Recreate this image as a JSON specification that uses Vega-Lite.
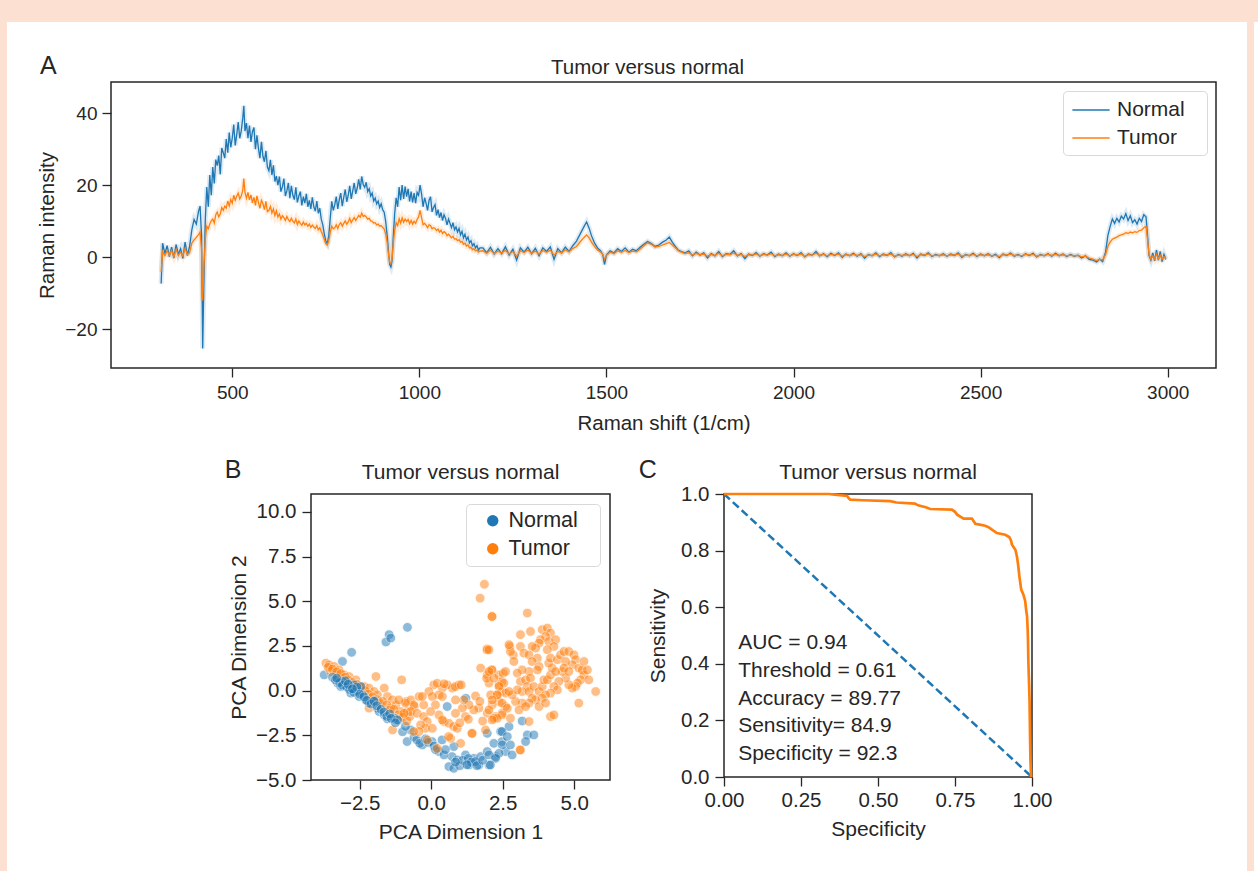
{
"$schema": "https://vega.github.io/schema/vega-lite/v6.json",
"background": "white",
"padding": 0,
"spacing": 0,
"resolve": {"scale": {"color": "independent"}, "legend": {"color": "independent"}},
"config": {
  "font": "Liberation Sans",
  "view": {"stroke": "#262626", "strokeWidth": 1.5},
  "axis": {"grid": false, "domain": false, "tickColor": "#262626", "tickWidth": 1.3, "tickSize": 9, "labelColor": "#262626", "titleColor": "#262626", "titleFontWeight": "normal", "labelFlush": false, "labelOverlap": false, "labelPadding": 4},
  "title": {"fontWeight": "normal", "color": "#262626", "fontSize": 20},
  "legend": {"labelColor": "#262626"}
},
"datasets": {
"spec": [
{"x":310,"Normal":-7.3,"Tumor":-4.0},{"x":314,"Normal":3.9,"Tumor":1.6},{"x":320,"Normal":1.0,"Tumor":0.4},{"x":326,"Normal":3.2,"Tumor":1.8},{"x":332,"Normal":0.2,"Tumor":0.6},{"x":338,"Normal":2.8,"Tumor":1.9},{"x":344,"Normal":-0.2,"Tumor":0.1},{"x":350,"Normal":3.5,"Tumor":2.2},{"x":356,"Normal":0.8,"Tumor":0.5},{"x":362,"Normal":2.4,"Tumor":1.4},{"x":368,"Normal":-0.3,"Tumor":0.3},{"x":374,"Normal":4.2,"Tumor":2.5},{"x":380,"Normal":0.5,"Tumor":0.8},{"x":386,"Normal":3.0,"Tumor":1.2},{"x":392,"Normal":7.6,"Tumor":3.9},{"x":398,"Normal":10.5,"Tumor":4.8},{"x":404,"Normal":9.2,"Tumor":5.5},{"x":410,"Normal":12.8,"Tumor":6.3},{"x":414,"Normal":14.2,"Tumor":7.0},{"x":418,"Normal":6.0,"Tumor":2.0},{"x":421,"Normal":-25.3,"Tumor":-12.0},{"x":424,"Normal":-8.0,"Tumor":-3.0},{"x":428,"Normal":10.5,"Tumor":5.2},{"x":432,"Normal":19.5,"Tumor":8.6},{"x":436,"Normal":14.0,"Tumor":7.9},{"x":440,"Normal":22.8,"Tumor":9.2},{"x":444,"Normal":17.2,"Tumor":10.1},{"x":448,"Normal":25.0,"Tumor":10.6},{"x":452,"Normal":20.5,"Tumor":9.5},{"x":456,"Normal":27.1,"Tumor":11.8},{"x":460,"Normal":25.4,"Tumor":12.5},{"x":464,"Normal":28.2,"Tumor":11.2},{"x":468,"Normal":23.0,"Tumor":12.0},{"x":472,"Normal":30.3,"Tumor":13.8},{"x":476,"Normal":29.0,"Tumor":13.0},{"x":480,"Normal":27.5,"Tumor":14.2},{"x":484,"Normal":32.8,"Tumor":13.6},{"x":488,"Normal":29.0,"Tumor":15.6},{"x":492,"Normal":34.6,"Tumor":14.2},{"x":496,"Normal":30.5,"Tumor":16.0},{"x":500,"Normal":33.0,"Tumor":15.0},{"x":504,"Normal":36.8,"Tumor":17.2},{"x":508,"Normal":31.0,"Tumor":15.8},{"x":512,"Normal":34.0,"Tumor":16.9},{"x":516,"Normal":37.5,"Tumor":17.8},{"x":520,"Normal":33.0,"Tumor":16.2},{"x":524,"Normal":35.0,"Tumor":17.0},{"x":528,"Normal":38.5,"Tumor":18.5},{"x":531,"Normal":42.0,"Tumor":21.8},{"x":534,"Normal":35.0,"Tumor":18.0},{"x":538,"Normal":37.2,"Tumor":16.4},{"x":542,"Normal":33.0,"Tumor":18.0},{"x":546,"Normal":36.5,"Tumor":15.9},{"x":550,"Normal":32.0,"Tumor":17.3},{"x":554,"Normal":34.8,"Tumor":15.1},{"x":558,"Normal":36.0,"Tumor":16.6},{"x":562,"Normal":30.0,"Tumor":14.4},{"x":566,"Normal":33.8,"Tumor":17.0},{"x":570,"Normal":30.2,"Tumor":15.2},{"x":574,"Normal":27.5,"Tumor":13.6},{"x":578,"Normal":32.0,"Tumor":15.8},{"x":582,"Normal":28.0,"Tumor":14.9},{"x":586,"Normal":26.5,"Tumor":13.2},{"x":590,"Normal":29.5,"Tumor":15.5},{"x":594,"Normal":25.0,"Tumor":12.7},{"x":598,"Normal":24.0,"Tumor":13.0},{"x":602,"Normal":27.0,"Tumor":14.1},{"x":606,"Normal":22.8,"Tumor":12.3},{"x":610,"Normal":25.5,"Tumor":13.4},{"x":614,"Normal":21.0,"Tumor":11.6},{"x":618,"Normal":22.5,"Tumor":12.9},{"x":622,"Normal":20.0,"Tumor":11.2},{"x":626,"Normal":22.4,"Tumor":12.0},{"x":630,"Normal":18.2,"Tumor":10.6},{"x":634,"Normal":19.5,"Tumor":11.5},{"x":638,"Normal":21.8,"Tumor":11.0},{"x":642,"Normal":17.0,"Tumor":10.2},{"x":646,"Normal":18.4,"Tumor":11.3},{"x":650,"Normal":20.6,"Tumor":10.4},{"x":654,"Normal":16.4,"Tumor":9.9},{"x":658,"Normal":19.8,"Tumor":10.8},{"x":662,"Normal":17.2,"Tumor":10.0},{"x":666,"Normal":16.0,"Tumor":9.5},{"x":670,"Normal":19.4,"Tumor":10.6},{"x":674,"Normal":15.2,"Tumor":9.1},{"x":678,"Normal":17.0,"Tumor":10.1},{"x":682,"Normal":18.2,"Tumor":9.4},{"x":686,"Normal":14.4,"Tumor":8.9},{"x":690,"Normal":16.8,"Tumor":9.8},{"x":694,"Normal":15.0,"Tumor":9.0},{"x":698,"Normal":17.6,"Tumor":9.4},{"x":702,"Normal":14.0,"Tumor":8.6},{"x":706,"Normal":15.8,"Tumor":9.2},{"x":710,"Normal":13.4,"Tumor":8.3},{"x":714,"Normal":16.6,"Tumor":8.9},{"x":718,"Normal":14.0,"Tumor":8.4},{"x":722,"Normal":12.8,"Tumor":8.0},{"x":726,"Normal":15.6,"Tumor":8.8},{"x":730,"Normal":12.2,"Tumor":7.6},{"x":734,"Normal":13.6,"Tumor":8.2},{"x":738,"Normal":10.5,"Tumor":7.1},{"x":742,"Normal":9.0,"Tumor":6.2},{"x":746,"Normal":6.5,"Tumor":5.0},{"x":750,"Normal":4.5,"Tumor":3.8},{"x":754,"Normal":3.8,"Tumor":3.4},{"x":758,"Normal":6.0,"Tumor":4.6},{"x":762,"Normal":11.0,"Tumor":7.0},{"x":766,"Normal":15.5,"Tumor":8.6},{"x":770,"Normal":13.0,"Tumor":7.9},{"x":774,"Normal":14.6,"Tumor":8.2},{"x":778,"Normal":16.8,"Tumor":9.0},{"x":782,"Normal":13.4,"Tumor":8.0},{"x":786,"Normal":16.0,"Tumor":9.1},{"x":790,"Normal":17.8,"Tumor":9.6},{"x":794,"Normal":14.2,"Tumor":8.6},{"x":798,"Normal":16.6,"Tumor":9.4},{"x":802,"Normal":18.8,"Tumor":10.1},{"x":806,"Normal":15.4,"Tumor":9.2},{"x":810,"Normal":17.2,"Tumor":9.8},{"x":814,"Normal":19.8,"Tumor":10.8},{"x":818,"Normal":16.2,"Tumor":9.6},{"x":822,"Normal":18.4,"Tumor":10.4},{"x":826,"Normal":20.6,"Tumor":11.0},{"x":830,"Normal":17.6,"Tumor":10.2},{"x":834,"Normal":19.2,"Tumor":10.9},{"x":838,"Normal":21.6,"Tumor":11.6},{"x":842,"Normal":18.8,"Tumor":11.1},{"x":846,"Normal":22.4,"Tumor":12.2},{"x":850,"Normal":20.2,"Tumor":11.3},{"x":854,"Normal":19.4,"Tumor":11.6},{"x":858,"Normal":20.8,"Tumor":11.2},{"x":862,"Normal":18.2,"Tumor":10.6},{"x":866,"Normal":19.0,"Tumor":10.8},{"x":870,"Normal":17.0,"Tumor":10.1},{"x":874,"Normal":17.8,"Tumor":10.0},{"x":878,"Normal":15.6,"Tumor":9.5},{"x":882,"Normal":16.4,"Tumor":9.6},{"x":886,"Normal":14.8,"Tumor":9.0},{"x":890,"Normal":15.6,"Tumor":9.2},{"x":894,"Normal":13.8,"Tumor":8.6},{"x":898,"Normal":14.8,"Tumor":8.8},{"x":902,"Normal":13.2,"Tumor":8.3},{"x":906,"Normal":12.5,"Tumor":7.8},{"x":910,"Normal":10.0,"Tumor":6.5},{"x":914,"Normal":6.0,"Tumor":4.2},{"x":918,"Normal":1.0,"Tumor":0.5},{"x":921,"Normal":-2.0,"Tumor":-1.5},{"x":924,"Normal":-2.7,"Tumor":-1.8},{"x":927,"Normal":-1.0,"Tumor":-0.5},{"x":930,"Normal":5.0,"Tumor":3.5},{"x":934,"Normal":12.0,"Tumor":7.5},{"x":938,"Normal":16.5,"Tumor":9.6},{"x":942,"Normal":14.0,"Tumor":8.8},{"x":946,"Normal":19.5,"Tumor":10.7},{"x":950,"Normal":15.8,"Tumor":9.5},{"x":954,"Normal":20.0,"Tumor":10.9},{"x":958,"Normal":16.2,"Tumor":9.7},{"x":962,"Normal":19.6,"Tumor":10.6},{"x":966,"Normal":16.8,"Tumor":9.9},{"x":970,"Normal":19.0,"Tumor":10.5},{"x":974,"Normal":15.5,"Tumor":9.3},{"x":978,"Normal":18.2,"Tumor":10.2},{"x":982,"Normal":15.2,"Tumor":9.2},{"x":986,"Normal":17.8,"Tumor":10.0},{"x":990,"Normal":15.0,"Tumor":9.4},{"x":994,"Normal":18.0,"Tumor":10.5},{"x":998,"Normal":17.2,"Tumor":11.2},{"x":1002,"Normal":20.0,"Tumor":13.0},{"x":1006,"Normal":17.5,"Tumor":11.0},{"x":1010,"Normal":14.0,"Tumor":9.0},{"x":1014,"Normal":16.5,"Tumor":9.4},{"x":1018,"Normal":15.0,"Tumor":8.9},{"x":1022,"Normal":13.0,"Tumor":8.2},{"x":1026,"Normal":15.8,"Tumor":9.0},{"x":1030,"Normal":16.8,"Tumor":8.8},{"x":1034,"Normal":12.6,"Tumor":7.9},{"x":1038,"Normal":13.8,"Tumor":8.2},{"x":1042,"Normal":14.6,"Tumor":8.0},{"x":1046,"Normal":11.6,"Tumor":7.4},{"x":1050,"Normal":13.2,"Tumor":7.8},{"x":1054,"Normal":11.0,"Tumor":7.0},{"x":1058,"Normal":12.4,"Tumor":7.5},{"x":1062,"Normal":10.2,"Tumor":6.6},{"x":1066,"Normal":11.8,"Tumor":7.1},{"x":1070,"Normal":10.8,"Tumor":6.8},{"x":1074,"Normal":9.0,"Tumor":6.0},{"x":1078,"Normal":10.6,"Tumor":6.4},{"x":1082,"Normal":9.4,"Tumor":5.9},{"x":1086,"Normal":8.2,"Tumor":5.4},{"x":1090,"Normal":9.6,"Tumor":5.8},{"x":1094,"Normal":7.6,"Tumor":5.0},{"x":1098,"Normal":8.4,"Tumor":5.2},{"x":1102,"Normal":7.0,"Tumor":4.6},{"x":1106,"Normal":8.0,"Tumor":4.9},{"x":1110,"Normal":6.2,"Tumor":4.2},{"x":1114,"Normal":7.2,"Tumor":4.4},{"x":1118,"Normal":5.4,"Tumor":3.6},{"x":1122,"Normal":6.4,"Tumor":3.9},{"x":1126,"Normal":4.8,"Tumor":3.1},{"x":1130,"Normal":5.6,"Tumor":3.4},{"x":1134,"Normal":4.0,"Tumor":2.6},{"x":1138,"Normal":4.6,"Tumor":2.8},{"x":1142,"Normal":3.2,"Tumor":2.1},{"x":1146,"Normal":3.8,"Tumor":2.4},{"x":1150,"Normal":2.6,"Tumor":1.8},{"x":1154,"Normal":3.2,"Tumor":2.0},{"x":1158,"Normal":2.0,"Tumor":1.5},{"x":1162,"Normal":2.6,"Tumor":1.7},
{"x":1170,"Normal":2.6,"Tumor":1.8},{"x":1180,"Normal":1.2,"Tumor":1.1},{"x":1190,"Normal":2.8,"Tumor":2.0},{"x":1200,"Normal":0.9,"Tumor":1.0},{"x":1210,"Normal":2.4,"Tumor":1.7},{"x":1220,"Normal":1.0,"Tumor":1.2},{"x":1230,"Normal":2.9,"Tumor":1.9},{"x":1240,"Normal":0.6,"Tumor":0.9},{"x":1250,"Normal":2.2,"Tumor":1.6},{"x":1260,"Normal":-0.8,"Tumor":0.3},{"x":1270,"Normal":2.6,"Tumor":1.8},{"x":1280,"Normal":1.4,"Tumor":1.3},{"x":1290,"Normal":2.8,"Tumor":2.0},{"x":1300,"Normal":1.0,"Tumor":1.1},{"x":1310,"Normal":2.5,"Tumor":1.7},{"x":1320,"Normal":0.4,"Tumor":0.9},{"x":1330,"Normal":2.6,"Tumor":1.9},{"x":1340,"Normal":1.6,"Tumor":1.4},{"x":1350,"Normal":2.9,"Tumor":2.0},{"x":1360,"Normal":-0.6,"Tumor":0.6},{"x":1370,"Normal":2.4,"Tumor":1.6},{"x":1380,"Normal":1.2,"Tumor":1.2},{"x":1390,"Normal":2.8,"Tumor":2.1},{"x":1400,"Normal":1.6,"Tumor":1.5},{"x":1410,"Normal":3.2,"Tumor":2.4},{"x":1420,"Normal":4.5,"Tumor":3.0},{"x":1430,"Normal":6.5,"Tumor":4.3},{"x":1440,"Normal":8.5,"Tumor":5.5},{"x":1447,"Normal":9.8,"Tumor":6.2},{"x":1454,"Normal":8.0,"Tumor":5.3},{"x":1460,"Normal":6.0,"Tumor":4.2},{"x":1468,"Normal":4.0,"Tumor":3.0},{"x":1476,"Normal":2.6,"Tumor":2.0},{"x":1484,"Normal":1.8,"Tumor":1.5},{"x":1490,"Normal":0.8,"Tumor":0.8},{"x":1495,"Normal":-2.0,"Tumor":-0.6},{"x":1500,"Normal":0.6,"Tumor":0.5},{"x":1510,"Normal":1.8,"Tumor":1.4},{"x":1520,"Normal":1.2,"Tumor":1.0},{"x":1530,"Normal":2.4,"Tumor":1.8},{"x":1540,"Normal":1.6,"Tumor":1.4},{"x":1550,"Normal":2.6,"Tumor":1.9},{"x":1560,"Normal":1.4,"Tumor":1.3},{"x":1570,"Normal":2.2,"Tumor":1.7},{"x":1580,"Normal":1.8,"Tumor":1.5},{"x":1590,"Normal":2.8,"Tumor":2.2},{"x":1600,"Normal":3.6,"Tumor":3.2},{"x":1610,"Normal":4.4,"Tumor":4.0},{"x":1620,"Normal":3.8,"Tumor":3.6},{"x":1630,"Normal":3.0,"Tumor":2.8},{"x":1640,"Normal":3.4,"Tumor":3.0},{"x":1650,"Normal":4.2,"Tumor":3.4},{"x":1660,"Normal":4.8,"Tumor":3.8},{"x":1668,"Normal":5.6,"Tumor":4.1},{"x":1676,"Normal":4.2,"Tumor":3.4},{"x":1684,"Normal":3.0,"Tumor":2.6},{"x":1692,"Normal":2.0,"Tumor":1.8},{"x":1700,"Normal":1.6,"Tumor":1.4},{"x":1710,"Normal":1.2,"Tumor":1.0},{"x":1720,"Normal":1.8,"Tumor":1.3},{"x":1730,"Normal":0.4,"Tumor":0.6},{"x":1740,"Normal":1.4,"Tumor":1.1},{"x":1750,"Normal":0.6,"Tumor":0.7},{"x":1760,"Normal":1.2,"Tumor":0.9},{"x":1770,"Normal":-0.2,"Tumor":0.3},{"x":1780,"Normal":1.0,"Tumor":0.8},{"x":1790,"Normal":0.4,"Tumor":0.5},{"x":1800,"Normal":1.6,"Tumor":1.1},{"x":1810,"Normal":0.2,"Tumor":0.4},{"x":1820,"Normal":1.0,"Tumor":0.8},{"x":1830,"Normal":0.8,"Tumor":0.7},{"x":1840,"Normal":1.8,"Tumor":1.2},{"x":1850,"Normal":0.4,"Tumor":0.5},{"x":1860,"Normal":1.0,"Tumor":0.8},{"x":1870,"Normal":-0.4,"Tumor":0.2},{"x":1880,"Normal":0.9,"Tumor":0.7},{"x":1890,"Normal":0.5,"Tumor":0.6},{"x":1900,"Normal":1.3,"Tumor":0.9},{"x":1910,"Normal":0.3,"Tumor":0.4},{"x":1920,"Normal":1.0,"Tumor":0.8},{"x":1930,"Normal":0.6,"Tumor":0.6},{"x":1940,"Normal":1.4,"Tumor":1.0},{"x":1950,"Normal":0.2,"Tumor":0.4},{"x":1960,"Normal":0.9,"Tumor":0.7},{"x":1970,"Normal":0.4,"Tumor":0.5},{"x":1980,"Normal":1.2,"Tumor":0.9},{"x":1990,"Normal":0.3,"Tumor":0.4},{"x":2000,"Normal":1.0,"Tumor":0.8},{"x":2010,"Normal":0.5,"Tumor":0.6},{"x":2020,"Normal":1.3,"Tumor":0.9},{"x":2030,"Normal":0.1,"Tumor":0.3},{"x":2040,"Normal":0.9,"Tumor":0.7},{"x":2050,"Normal":0.6,"Tumor":0.6},{"x":2060,"Normal":1.6,"Tumor":1.1},{"x":2070,"Normal":0.4,"Tumor":0.5},{"x":2080,"Normal":1.0,"Tumor":0.8},{"x":2090,"Normal":0.2,"Tumor":0.4},{"x":2100,"Normal":1.1,"Tumor":0.8},{"x":2110,"Normal":0.5,"Tumor":0.6},{"x":2120,"Normal":1.2,"Tumor":0.9},{"x":2130,"Normal":0.0,"Tumor":0.3},{"x":2140,"Normal":0.9,"Tumor":0.7},{"x":2150,"Normal":0.4,"Tumor":0.5},{"x":2160,"Normal":1.1,"Tumor":0.8},{"x":2170,"Normal":0.3,"Tumor":0.5},{"x":2180,"Normal":1.0,"Tumor":0.7},{"x":2190,"Normal":-0.3,"Tumor":0.2},{"x":2200,"Normal":0.8,"Tumor":0.6},{"x":2210,"Normal":0.4,"Tumor":0.5},{"x":2220,"Normal":1.2,"Tumor":0.9},{"x":2230,"Normal":0.2,"Tumor":0.4},{"x":2240,"Normal":0.9,"Tumor":0.7},{"x":2250,"Normal":0.5,"Tumor":0.6},{"x":2260,"Normal":1.3,"Tumor":0.9},{"x":2270,"Normal":0.1,"Tumor":0.3},{"x":2280,"Normal":0.8,"Tumor":0.6},{"x":2290,"Normal":0.3,"Tumor":0.5},{"x":2300,"Normal":1.0,"Tumor":0.7},{"x":2310,"Normal":0.4,"Tumor":0.5},{"x":2320,"Normal":1.1,"Tumor":0.8},{"x":2330,"Normal":-0.2,"Tumor":0.2},{"x":2340,"Normal":0.9,"Tumor":0.7},{"x":2350,"Normal":0.5,"Tumor":0.6},{"x":2360,"Normal":1.2,"Tumor":0.9},{"x":2370,"Normal":0.2,"Tumor":0.4},{"x":2380,"Normal":0.8,"Tumor":0.6},{"x":2390,"Normal":0.4,"Tumor":0.5},{"x":2400,"Normal":1.0,"Tumor":0.7},{"x":2410,"Normal":0.3,"Tumor":0.4},{"x":2420,"Normal":0.9,"Tumor":0.7},{"x":2430,"Normal":0.5,"Tumor":0.6},{"x":2440,"Normal":1.2,"Tumor":0.9},{"x":2450,"Normal":0.0,"Tumor":0.3},{"x":2460,"Normal":0.8,"Tumor":0.6},{"x":2470,"Normal":0.4,"Tumor":0.5},{"x":2480,"Normal":1.1,"Tumor":0.8},{"x":2490,"Normal":0.2,"Tumor":0.4},{"x":2500,"Normal":0.9,"Tumor":0.7},{"x":2510,"Normal":0.4,"Tumor":0.5},{"x":2520,"Normal":1.0,"Tumor":0.7},{"x":2530,"Normal":0.3,"Tumor":0.4},{"x":2540,"Normal":0.8,"Tumor":0.6},{"x":2550,"Normal":-0.1,"Tumor":0.2},{"x":2560,"Normal":0.9,"Tumor":0.7},{"x":2570,"Normal":0.5,"Tumor":0.6},{"x":2580,"Normal":1.2,"Tumor":0.9},{"x":2590,"Normal":0.3,"Tumor":0.5},{"x":2600,"Normal":0.8,"Tumor":0.6},{"x":2610,"Normal":0.2,"Tumor":0.4},{"x":2620,"Normal":1.0,"Tumor":0.8},{"x":2630,"Normal":0.5,"Tumor":0.6},{"x":2640,"Normal":1.1,"Tumor":0.8},{"x":2650,"Normal":0.1,"Tumor":0.3},{"x":2660,"Normal":0.8,"Tumor":0.6},{"x":2670,"Normal":0.4,"Tumor":0.5},{"x":2680,"Normal":1.0,"Tumor":0.8},{"x":2690,"Normal":0.3,"Tumor":0.5},{"x":2700,"Normal":1.1,"Tumor":0.8},{"x":2710,"Normal":0.4,"Tumor":0.5},{"x":2720,"Normal":0.9,"Tumor":0.7},{"x":2730,"Normal":0.2,"Tumor":0.4},{"x":2740,"Normal":0.8,"Tumor":0.6},{"x":2750,"Normal":0.3,"Tumor":0.4},{"x":2760,"Normal":0.6,"Tumor":0.5},{"x":2770,"Normal":-0.2,"Tumor":0.1},{"x":2780,"Normal":0.4,"Tumor":0.3},{"x":2790,"Normal":-0.6,"Tumor":-0.2},{"x":2800,"Normal":-0.8,"Tumor":-0.5},{"x":2810,"Normal":-1.3,"Tumor":-0.9},{"x":2818,"Normal":-0.5,"Tumor":-0.6},{"x":2826,"Normal":-1.2,"Tumor":-0.7},{"x":2834,"Normal":1.5,"Tumor":0.8},{"x":2840,"Normal":6.0,"Tumor":3.0},{"x":2846,"Normal":8.5,"Tumor":4.2},{"x":2852,"Normal":10.6,"Tumor":5.0},{"x":2858,"Normal":9.4,"Tumor":5.3},{"x":2864,"Normal":10.8,"Tumor":5.6},{"x":2870,"Normal":9.8,"Tumor":6.0},{"x":2876,"Normal":11.4,"Tumor":6.2},{"x":2882,"Normal":10.6,"Tumor":6.4},{"x":2888,"Normal":12.1,"Tumor":6.8},{"x":2894,"Normal":10.2,"Tumor":6.6},{"x":2900,"Normal":11.5,"Tumor":7.0},{"x":2906,"Normal":9.6,"Tumor":6.8},{"x":2912,"Normal":10.4,"Tumor":7.1},{"x":2918,"Normal":9.2,"Tumor":6.9},{"x":2924,"Normal":10.8,"Tumor":7.4},{"x":2930,"Normal":9.9,"Tumor":7.5},{"x":2936,"Normal":11.8,"Tumor":8.2},{"x":2942,"Normal":11.2,"Tumor":8.6},{"x":2946,"Normal":6.0,"Tumor":5.0},{"x":2950,"Normal":0.5,"Tumor":0.8},{"x":2955,"Normal":-0.8,"Tumor":-0.5},{"x":2960,"Normal":1.2,"Tumor":0.4},{"x":2965,"Normal":-1.0,"Tumor":-0.6},{"x":2970,"Normal":2.0,"Tumor":0.9},{"x":2975,"Normal":-0.8,"Tumor":-0.4},{"x":2980,"Normal":1.6,"Tumor":0.6},{"x":2985,"Normal":-1.2,"Tumor":-0.6},{"x":2990,"Normal":0.8,"Tumor":0.2},{"x":2995,"Normal":-0.6,"Tumor":-0.4}
],
"pca": [
{"d1":-0.83,"d2":3.54,"g":"Normal"},{"d1":-1.47,"d2":3.13,"g":"Normal"},{"d1":-1.58,"d2":2.72,"g":"Normal"},{"d1":-1.41,"d2":2.94,"g":"Normal"},{"d1":-2.78,"d2":2.14,"g":"Normal"},{"d1":-3.10,"d2":1.63,"g":"Normal"},{"d1":-3.74,"d2":0.88,"g":"Normal"},
{"d1":1.21,"d2":-0.43,"g":"Normal"},{"d1":0.56,"d2":-0.89,"g":"Normal"},{"d1":-1.13,"d2":-1.64,"g":"Normal"},{"d1":-0.72,"d2":-2.2,"g":"Normal"},{"d1":-0.84,"d2":-2.85,"g":"Normal"},{"d1":-0.31,"d2":-3.04,"g":"Normal"},{"d1":0.03,"d2":-2.85,"g":"Normal"},{"d1":0.27,"d2":-3.41,"g":"Normal"},{"d1":0.38,"d2":-2.76,"g":"Normal"},{"d1":0.79,"d2":-3.13,"g":"Normal"},{"d1":0.73,"d2":-3.69,"g":"Normal"},{"d1":0.91,"d2":-3.88,"g":"Normal"},{"d1":0.62,"d2":-4.25,"g":"Normal"},{"d1":0.79,"d2":-4.35,"g":"Normal"},{"d1":1.2,"d2":-3.6,"g":"Normal"},{"d1":1.32,"d2":-4.16,"g":"Normal"},{"d1":1.49,"d2":-3.79,"g":"Normal"},{"d1":1.67,"d2":-4.16,"g":"Normal"},{"d1":1.73,"d2":-3.69,"g":"Normal"},{"d1":1.96,"d2":-3.41,"g":"Normal"},{"d1":2.02,"d2":-4.16,"g":"Normal"},{"d1":2.25,"d2":-3.69,"g":"Normal"},{"d1":2.43,"d2":-2.29,"g":"Normal"},{"d1":2.48,"d2":-2.85,"g":"Normal"},{"d1":2.6,"d2":-3.41,"g":"Normal"},{"d1":1.96,"d2":-2.39,"g":"Normal"},
{"d1":-1.0,"d2":-2.3,"g":"Normal"},{"d1":-0.9,"d2":-2.0,"g":"Normal"},{"d1":-0.6,"d2":-2.6,"g":"Normal"},{"d1":-0.5,"d2":-2.75,"g":"Normal"},{"d1":-0.4,"d2":-2.95,"g":"Normal"},{"d1":-0.2,"d2":-2.7,"g":"Normal"},{"d1":-0.1,"d2":-2.9,"g":"Normal"},{"d1":0.1,"d2":-3.1,"g":"Normal"},{"d1":0.15,"d2":-3.3,"g":"Normal"},{"d1":0.45,"d2":-3.6,"g":"Normal"},{"d1":0.5,"d2":-3.3,"g":"Normal"},{"d1":1.0,"d2":-4.2,"g":"Normal"},{"d1":1.1,"d2":-3.9,"g":"Normal"},{"d1":1.3,"d2":-3.8,"g":"Normal"},{"d1":1.4,"d2":-4.0,"g":"Normal"},{"d1":1.55,"d2":-3.97,"g":"Normal"},{"d1":1.6,"d2":-4.2,"g":"Normal"},{"d1":1.8,"d2":-3.9,"g":"Normal"},{"d1":1.25,"d2":-4.15,"g":"Normal"},{"d1":0.85,"d2":-4.0,"g":"Normal"},
{"d1":3.18,"d2":-1.70,"g":"Normal"},{"d1":2.72,"d2":-2.01,"g":"Normal"},{"d1":2.48,"d2":-2.29,"g":"Normal"},{"d1":2.66,"d2":-2.57,"g":"Normal"},{"d1":2.19,"d2":-2.95,"g":"Normal"},{"d1":2.48,"d2":-3.04,"g":"Normal"},{"d1":2.77,"d2":-3.04,"g":"Normal"},{"d1":3.36,"d2":-2.48,"g":"Normal"},{"d1":3.59,"d2":-2.48,"g":"Normal"},{"d1":3.30,"d2":-2.85,"g":"Normal"},{"d1":2.83,"d2":-3.60,"g":"Normal"},{"d1":2.37,"d2":-3.51,"g":"Normal"},{"d1":2.02,"d2":-3.60,"g":"Normal"},{"d1":2.25,"d2":-3.79,"g":"Normal"},{"d1":2.07,"d2":-4.16,"g":"Normal"},
{"d1":-3.68,"d2":1.54,"g":"Tumor"},{"d1":-3.57,"d2":1.44,"g":"Tumor"},{"d1":-3.39,"d2":1.35,"g":"Tumor"},{"d1":-3.51,"d2":1.07,"g":"Tumor"},{"d1":-3.22,"d2":1.16,"g":"Tumor"},{"d1":-3.33,"d2":0.88,"g":"Tumor"},{"d1":-3.04,"d2":0.88,"g":"Tumor"},{"d1":-3.10,"d2":0.70,"g":"Tumor"},{"d1":-2.87,"d2":0.79,"g":"Tumor"},{"d1":-2.81,"d2":0.51,"g":"Tumor"},{"d1":-2.63,"d2":0.60,"g":"Tumor"},{"d1":-2.57,"d2":0.32,"g":"Tumor"},{"d1":-2.34,"d2":0.23,"g":"Tumor"},{"d1":-2.46,"d2":0.04,"g":"Tumor"},{"d1":-2.17,"d2":0.14,"g":"Tumor"},{"d1":-1.99,"d2":-0.05,"g":"Tumor"},{"d1":-1.88,"d2":-0.24,"g":"Tumor"},{"d1":-1.93,"d2":0.79,"g":"Tumor"},{"d1":-1.64,"d2":0.14,"g":"Tumor"},{"d1":-1.53,"d2":-0.33,"g":"Tumor"},{"d1":-1.35,"d2":-0.52,"g":"Tumor"},{"d1":-1.23,"d2":-0.80,"g":"Tumor"},{"d1":-0.88,"d2":-0.61,"g":"Tumor"},{"d1":-0.71,"d2":-0.52,"g":"Tumor"},{"d1":-0.59,"d2":-0.89,"g":"Tumor"},{"d1":-0.42,"d2":-0.33,"g":"Tumor"},{"d1":-2.17,"d2":-0.98,"g":"Tumor"},{"d1":-1.76,"d2":-0.80,"g":"Tumor"},{"d1":-1.41,"d2":-0.98,"g":"Tumor"},{"d1":-1.06,"d2":-1.17,"g":"Tumor"},{"d1":-0.83,"d2":-1.17,"g":"Tumor"},{"d1":-2.11,"d2":-0.42,"g":"Tumor"},
{"d1":-3.6,"d2":1.3,"g":"Tumor"},{"d1":-3.45,"d2":1.2,"g":"Tumor"},{"d1":-3.3,"d2":1.05,"g":"Tumor"},{"d1":-3.15,"d2":0.95,"g":"Tumor"},{"d1":-3.0,"d2":0.75,"g":"Tumor"},{"d1":-2.9,"d2":0.6,"g":"Tumor"},{"d1":-2.75,"d2":0.45,"g":"Tumor"},{"d1":-2.6,"d2":0.35,"g":"Tumor"},{"d1":-2.45,"d2":0.2,"g":"Tumor"},{"d1":-2.3,"d2":0.0,"g":"Tumor"},{"d1":-2.2,"d2":-0.2,"g":"Tumor"},{"d1":-2.05,"d2":-0.35,"g":"Tumor"},{"d1":-1.9,"d2":-0.5,"g":"Tumor"},{"d1":-1.8,"d2":-0.7,"g":"Tumor"},{"d1":-1.7,"d2":-0.6,"g":"Tumor"},{"d1":-1.55,"d2":-0.8,"g":"Tumor"},{"d1":-1.45,"d2":-1.1,"g":"Tumor"},{"d1":-1.3,"d2":-1.05,"g":"Tumor"},{"d1":-1.15,"d2":-1.35,"g":"Tumor"},{"d1":-1.0,"d2":-1.5,"g":"Tumor"},{"d1":-0.85,"d2":-1.7,"g":"Tumor"},{"d1":-0.75,"d2":-1.45,"g":"Tumor"},{"d1":-1.35,"d2":-2.2,"g":"Tumor"},{"d1":-1.03,"d2":0.6,"g":"Tumor"},
{"d1":1.96,"d2":2.34,"g":"Tumor"},{"d1":1.73,"d2":1.26,"g":"Tumor"},{"d1":1.96,"d2":0.88,"g":"Tumor"},{"d1":2.13,"d2":1.16,"g":"Tumor"},{"d1":2.37,"d2":0.88,"g":"Tumor"},{"d1":2.02,"d2":0.42,"g":"Tumor"},{"d1":2.37,"d2":0.32,"g":"Tumor"},{"d1":2.48,"d2":-0.05,"g":"Tumor"},{"d1":2.6,"d2":-0.14,"g":"Tumor"},{"d1":2.31,"d2":-0.24,"g":"Tumor"},{"d1":2.08,"d2":-0.24,"g":"Tumor"},{"d1":2.37,"d2":-0.61,"g":"Tumor"},{"d1":2.13,"d2":-0.80,"g":"Tumor"},{"d1":2.6,"d2":-0.89,"g":"Tumor"},{"d1":2.48,"d2":-1.26,"g":"Tumor"},{"d1":2.25,"d2":-1.45,"g":"Tumor"},{"d1":1.96,"d2":-1.26,"g":"Tumor"},{"d1":1.67,"d2":-0.98,"g":"Tumor"},{"d1":1.49,"d2":-1.08,"g":"Tumor"},{"d1":1.32,"d2":-0.80,"g":"Tumor"},{"d1":1.09,"d2":-0.98,"g":"Tumor"},{"d1":1.14,"d2":-0.52,"g":"Tumor"},{"d1":0.85,"d2":-0.52,"g":"Tumor"},{"d1":0.74,"d2":0.14,"g":"Tumor"},{"d1":0.97,"d2":0.32,"g":"Tumor"},{"d1":0.56,"d2":0.32,"g":"Tumor"},{"d1":0.39,"d2":0.14,"g":"Tumor"},{"d1":0.27,"d2":-0.24,"g":"Tumor"},{"d1":0.09,"d2":0.32,"g":"Tumor"},{"d1":-0.08,"d2":-0.05,"g":"Tumor"},{"d1":0.04,"d2":-0.33,"g":"Tumor"},{"d1":0.39,"d2":-0.33,"g":"Tumor"},{"d1":0.15,"d2":-0.80,"g":"Tumor"},{"d1":-0.26,"d2":-0.80,"g":"Tumor"},{"d1":-0.31,"d2":-0.33,"g":"Tumor"},{"d1":-0.61,"d2":-0.80,"g":"Tumor"},{"d1":-0.72,"d2":-1.17,"g":"Tumor"},{"d1":-0.90,"d2":-0.70,"g":"Tumor"},{"d1":-1.13,"d2":-0.52,"g":"Tumor"},{"d1":-0.95,"d2":-1.27,"g":"Tumor"},{"d1":-0.49,"d2":-1.27,"g":"Tumor"},{"d1":-0.26,"d2":-1.45,"g":"Tumor"},{"d1":-0.14,"d2":-1.73,"g":"Tumor"},{"d1":-0.2,"d2":-2.11,"g":"Tumor"},{"d1":-0.37,"d2":-1.92,"g":"Tumor"},{"d1":-0.43,"d2":-2.29,"g":"Tumor"},{"d1":-0.61,"d2":-2.29,"g":"Tumor"},{"d1":0.04,"d2":-2.11,"g":"Tumor"},{"d1":0.44,"d2":-1.73,"g":"Tumor"},{"d1":0.62,"d2":-1.83,"g":"Tumor"},{"d1":0.79,"d2":-2.01,"g":"Tumor"},{"d1":0.91,"d2":-2.11,"g":"Tumor"},{"d1":0.85,"d2":-1.27,"g":"Tumor"},{"d1":1.2,"d2":-1.45,"g":"Tumor"},{"d1":1.44,"d2":-2.39,"g":"Tumor"},{"d1":1.9,"d2":-2.2,"g":"Tumor"},{"d1":2.19,"d2":-1.55,"g":"Tumor"},{"d1":0.27,"d2":-1.36,"g":"Tumor"},{"d1":-0.02,"d2":-1.17,"g":"Tumor"},{"d1":-0.14,"d2":-2.76,"g":"Tumor"},{"d1":0.21,"d2":-3.23,"g":"Tumor"},{"d1":1.03,"d2":-2.95,"g":"Tumor"},{"d1":0.68,"d2":-2.67,"g":"Tumor"},{"d1":0.39,"d2":-1.64,"g":"Tumor"},
{"d1":1.86,"d2":5.95,"g":"Tumor"},{"d1":1.71,"d2":5.17,"g":"Tumor"},{"d1":2.12,"d2":4.14,"g":"Tumor"},{"d1":1.95,"d2":2.28,"g":"Tumor"},{"d1":2.75,"d2":2.46,"g":"Tumor"},{"d1":2.87,"d2":2.0,"g":"Tumor"},{"d1":2.12,"d2":1.16,"g":"Tumor"},{"d1":1.94,"d2":0.69,"g":"Tumor"},{"d1":2.52,"d2":0.97,"g":"Tumor"},{"d1":2.47,"d2":0.5,"g":"Tumor"},{"d1":0.21,"d2":0.41,"g":"Tumor"},{"d1":0.45,"d2":0.38,"g":"Tumor"},{"d1":0.84,"d2":0.22,"g":"Tumor"},{"d1":1.05,"d2":0.32,"g":"Tumor"},{"d1":1.42,"d2":-2.39,"g":"Tumor"},{"d1":0.61,"d2":-2.57,"g":"Tumor"},{"d1":3.1,"d2":-3.32,"g":"Tumor"},{"d1":1.3,"d2":-1.6,"g":"Tumor"},{"d1":1.0,"d2":-1.8,"g":"Tumor"},{"d1":1.55,"d2":-0.3,"g":"Tumor"},{"d1":1.7,"d2":-0.6,"g":"Tumor"},{"d1":1.8,"d2":-1.7,"g":"Tumor"},
{"d1":3.36,"d2":4.34,"g":"Tumor"},{"d1":2.13,"d2":4.15,"g":"Tumor"},{"d1":3.12,"d2":3.13,"g":"Tumor"},{"d1":3.47,"d2":3.31,"g":"Tumor"},{"d1":3.88,"d2":3.41,"g":"Tumor"},{"d1":4.06,"d2":3.50,"g":"Tumor"},{"d1":4.17,"d2":3.22,"g":"Tumor"},{"d1":4.0,"d2":3.03,"g":"Tumor"},{"d1":3.82,"d2":2.85,"g":"Tumor"},{"d1":4.11,"d2":2.75,"g":"Tumor"},{"d1":4.35,"d2":2.85,"g":"Tumor"},{"d1":4.29,"d2":2.47,"g":"Tumor"},{"d1":4.06,"d2":2.29,"g":"Tumor"},{"d1":3.77,"d2":2.66,"g":"Tumor"},{"d1":3.65,"d2":2.38,"g":"Tumor"},{"d1":3.53,"d2":2.47,"g":"Tumor"},{"d1":3.12,"d2":2.47,"g":"Tumor"},{"d1":3.24,"d2":2.10,"g":"Tumor"},{"d1":3.42,"d2":2.0,"g":"Tumor"},{"d1":3.71,"d2":1.82,"g":"Tumor"},{"d1":3.53,"d2":1.63,"g":"Tumor"},{"d1":3.77,"d2":1.35,"g":"Tumor"},{"d1":3.71,"d2":1.16,"g":"Tumor"},{"d1":3.42,"d2":1.07,"g":"Tumor"},{"d1":3.18,"d2":1.16,"g":"Tumor"},{"d1":3.01,"d2":0.98,"g":"Tumor"},{"d1":3.12,"d2":0.51,"g":"Tumor"},{"d1":3.30,"d2":0.60,"g":"Tumor"},{"d1":3.47,"d2":0.70,"g":"Tumor"},{"d1":3.36,"d2":0.23,"g":"Tumor"},{"d1":3.18,"d2":-0.05,"g":"Tumor"},{"d1":3.42,"d2":-0.05,"g":"Tumor"},{"d1":3.59,"d2":0.23,"g":"Tumor"},{"d1":3.77,"d2":-0.05,"g":"Tumor"},{"d1":3.88,"d2":0.23,"g":"Tumor"},{"d1":3.94,"d2":0.60,"g":"Tumor"},{"d1":4.06,"d2":0.60,"g":"Tumor"},{"d1":4.17,"d2":0.88,"g":"Tumor"},{"d1":4.23,"d2":1.26,"g":"Tumor"},{"d1":4.11,"d2":1.54,"g":"Tumor"},{"d1":4.17,"d2":1.82,"g":"Tumor"},{"d1":4.41,"d2":1.73,"g":"Tumor"},{"d1":4.52,"d2":2.0,"g":"Tumor"},{"d1":4.64,"d2":2.19,"g":"Tumor"},{"d1":4.81,"d2":2.19,"g":"Tumor"},{"d1":4.99,"d2":2.0,"g":"Tumor"},{"d1":5.05,"d2":1.73,"g":"Tumor"},{"d1":4.93,"d2":1.44,"g":"Tumor"},{"d1":5.16,"d2":1.26,"g":"Tumor"},{"d1":5.28,"d2":1.16,"g":"Tumor"},{"d1":5.34,"d2":0.88,"g":"Tumor"},{"d1":5.22,"d2":0.60,"g":"Tumor"},{"d1":5.11,"d2":0.42,"g":"Tumor"},{"d1":5.05,"d2":0.23,"g":"Tumor"},{"d1":4.93,"d2":0.14,"g":"Tumor"},{"d1":4.81,"d2":0.33,"g":"Tumor"},{"d1":4.70,"d2":0.70,"g":"Tumor"},{"d1":4.58,"d2":1.07,"g":"Tumor"},{"d1":4.35,"d2":1.07,"g":"Tumor"},{"d1":4.46,"d2":0.51,"g":"Tumor"},{"d1":4.29,"d2":0.23,"g":"Tumor"},{"d1":4.41,"d2":0.04,"g":"Tumor"},{"d1":4.17,"d2":-0.14,"g":"Tumor"},{"d1":4.0,"d2":-0.24,"g":"Tumor"},{"d1":3.88,"d2":-0.42,"g":"Tumor"},{"d1":3.65,"d2":-0.52,"g":"Tumor"},{"d1":3.53,"d2":-0.42,"g":"Tumor"},{"d1":3.42,"d2":-0.70,"g":"Tumor"},{"d1":3.18,"d2":-0.70,"g":"Tumor"},{"d1":2.95,"d2":-0.61,"g":"Tumor"},{"d1":2.83,"d2":-0.24,"g":"Tumor"},{"d1":3.01,"d2":0.04,"g":"Tumor"},{"d1":2.72,"d2":-0.05,"g":"Tumor"},{"d1":2.54,"d2":0.42,"g":"Tumor"},{"d1":2.60,"d2":1.07,"g":"Tumor"},{"d1":2.89,"d2":1.63,"g":"Tumor"},{"d1":2.77,"d2":2.19,"g":"Tumor"},{"d1":2.72,"d2":2.57,"g":"Tumor"},{"d1":2.02,"d2":2.28,"g":"Tumor"},{"d1":2.19,"d2":0.70,"g":"Tumor"},{"d1":2.02,"d2":1.07,"g":"Tumor"},{"d1":2.37,"d2":0.23,"g":"Tumor"},{"d1":2.31,"d2":-0.24,"g":"Tumor"},{"d1":2.13,"d2":-0.52,"g":"Tumor"},{"d1":2.48,"d2":-0.70,"g":"Tumor"},{"d1":2.66,"d2":-0.99,"g":"Tumor"},{"d1":2.48,"d2":-1.36,"g":"Tumor"},{"d1":2.31,"d2":-1.55,"g":"Tumor"},{"d1":2.13,"d2":-1.64,"g":"Tumor"},{"d1":2.02,"d2":-1.08,"g":"Tumor"},{"d1":2.77,"d2":-1.55,"g":"Tumor"},{"d1":3.07,"d2":-1.08,"g":"Tumor"},{"d1":3.30,"d2":-0.89,"g":"Tumor"},{"d1":3.77,"d2":-0.89,"g":"Tumor"},{"d1":4.0,"d2":-0.70,"g":"Tumor"},{"d1":4.17,"d2":-1.45,"g":"Tumor"},{"d1":4.29,"d2":-1.36,"g":"Tumor"},{"d1":3.42,"d2":-1.73,"g":"Tumor"},{"d1":3.12,"d2":-3.32,"g":"Tumor"},{"d1":5.75,"d2":-0.05,"g":"Tumor"},{"d1":5.16,"d2":-0.70,"g":"Tumor"},{"d1":5.51,"d2":0.60,"g":"Tumor"},{"d1":5.34,"d2":1.63,"g":"Tumor"},{"d1":4.70,"d2":1.63,"g":"Tumor"},{"d1":4.64,"d2":1.26,"g":"Tumor"},{"d1":4.81,"d2":1.07,"g":"Tumor"},{"d1":5.46,"d2":1.16,"g":"Tumor"},
{"d1":-3.27,"d2":0.42,"g":"Normal"},{"d1":-3.04,"d2":0.32,"g":"Normal"},{"d1":-2.92,"d2":0.42,"g":"Normal"},{"d1":-2.81,"d2":0.14,"g":"Normal"},{"d1":-2.63,"d2":0.04,"g":"Normal"},{"d1":-2.52,"d2":-0.05,"g":"Normal"},{"d1":-2.69,"d2":0.32,"g":"Normal"},{"d1":-3.10,"d2":0.51,"g":"Normal"},{"d1":-3.16,"d2":0.23,"g":"Normal"},{"d1":-2.46,"d2":0.23,"g":"Normal"},{"d1":-2.40,"d2":-0.24,"g":"Normal"},{"d1":-2.28,"d2":-0.52,"g":"Normal"},{"d1":-2.17,"d2":-0.70,"g":"Normal"},{"d1":-1.99,"d2":-0.57,"g":"Normal"},{"d1":-1.88,"d2":-0.98,"g":"Normal"},{"d1":-1.82,"d2":-1.17,"g":"Normal"},{"d1":-1.64,"d2":-1.36,"g":"Normal"},{"d1":-1.53,"d2":-1.58,"g":"Normal"},{"d1":-1.29,"d2":-1.54,"g":"Normal"},{"d1":-1.18,"d2":-1.64,"g":"Normal"},{"d1":-2.52,"d2":-0.33,"g":"Normal"},{"d1":-2.81,"d2":-0.14,"g":"Normal"},
{"d1":-3.45,"d2":0.75,"g":"Normal"},{"d1":-3.35,"d2":0.6,"g":"Normal"},{"d1":-3.2,"d2":0.45,"g":"Normal"},{"d1":-3.1,"d2":0.3,"g":"Normal"},{"d1":-2.95,"d2":0.2,"g":"Normal"},{"d1":-2.85,"d2":0.05,"g":"Normal"},{"d1":-2.7,"d2":-0.1,"g":"Normal"},{"d1":-2.6,"d2":0.2,"g":"Normal"},{"d1":-2.5,"d2":-0.2,"g":"Normal"},{"d1":-2.35,"d2":-0.35,"g":"Normal"},{"d1":-2.25,"d2":-0.55,"g":"Normal"},{"d1":-2.1,"d2":-0.75,"g":"Normal"},{"d1":-2.0,"d2":-0.6,"g":"Normal"},{"d1":-1.9,"d2":-0.85,"g":"Normal"},{"d1":-1.75,"d2":-1.05,"g":"Normal"},{"d1":-1.65,"d2":-1.2,"g":"Normal"},{"d1":-1.55,"d2":-1.45,"g":"Normal"},{"d1":-1.45,"d2":-1.3,"g":"Normal"},{"d1":-1.4,"d2":-1.55,"g":"Normal"},{"d1":-1.25,"d2":-1.8,"g":"Normal"},{"d1":-3.0,"d2":0.55,"g":"Normal"},{"d1":-2.9,"d2":0.35,"g":"Normal"},{"d1":-3.3,"d2":0.7,"g":"Normal"},{"d1":-2.75,"d2":0.1,"g":"Normal"}
],
"roc": [
{"sp":0,"se":1},{"sp":0.34,"se":1},{"sp":0.36,"se":0.998},{"sp":0.40,"se":0.993},{"sp":0.405,"se":0.985},{"sp":0.41,"se":0.98},{"sp":0.45,"se":0.978},{"sp":0.54,"se":0.975},{"sp":0.56,"se":0.97},{"sp":0.62,"se":0.966},{"sp":0.63,"se":0.96},{"sp":0.655,"se":0.953},{"sp":0.67,"se":0.947},{"sp":0.74,"se":0.945},{"sp":0.75,"se":0.937},{"sp":0.757,"se":0.927},{"sp":0.778,"se":0.913},{"sp":0.805,"se":0.913},{"sp":0.816,"se":0.895},{"sp":0.83,"se":0.892},{"sp":0.848,"se":0.888},{"sp":0.86,"se":0.882},{"sp":0.87,"se":0.874},{"sp":0.886,"se":0.862},{"sp":0.913,"se":0.856},{"sp":0.926,"se":0.848},{"sp":0.932,"se":0.835},{"sp":0.935,"se":0.821},{"sp":0.946,"se":0.803},{"sp":0.951,"se":0.78},{"sp":0.955,"se":0.75},{"sp":0.959,"se":0.709},{"sp":0.965,"se":0.662},{"sp":0.972,"se":0.645},{"sp":0.978,"se":0.621},{"sp":0.981,"se":0.59},{"sp":0.984,"se":0.568},{"sp":0.986,"se":0.52},{"sp":0.987,"se":0.485},{"sp":0.988,"se":0.42},{"sp":0.989,"se":0.379},{"sp":0.9905,"se":0.33},{"sp":0.992,"se":0.273},{"sp":0.993,"se":0.2},{"sp":0.994,"se":0.12},{"sp":0.995,"se":0.06},{"sp":0.997,"se":0.0}
],
"diag": [{"sp":0,"se":1},{"sp":1,"se":0}],
"stats": [{"label":["AUC = 0.94","Threshold = 0.61","Accuracy = 89.77","Sensitivity= 84.9","Specificity = 92.3"]}]
},
"vconcat": [
 {"width": 1258, "height": 22, "data": {"values": []}, "mark": "point", "view": {"fill": "#fce0d2", "stroke": null}},
 {"hconcat": [
   {"width": 7, "height": 849, "data": {"values": []}, "mark": "point", "view": {"fill": "#fce0d2", "stroke": null}},
   {"vconcat": [
     {"width": 10, "height": 8, "data": {"values": []}, "mark": "point", "view": {"stroke": null}},
     {"title": {"text": "A", "anchor": "start", "frame": "bounds", "offset": -22, "fontSize": 25, "dx": 3},
      "resolve": {"scale": {"color": "independent"}, "legend": {"color": "independent"}},
      "vconcat": [
       {"width": 1105, "height": 286,
        "title": {"text": "Tumor versus normal", "fontSize": 20.5, "offset": 4, "dx": -16},
        "data": {"name": "spec"},
        "transform": [{"fold": ["Normal", "Tumor"], "as": ["group", "val"]}],
        "encoding": {
          "x": {"field": "x", "type": "quantitative", "scale": {"domain": [176, 3129], "nice": false, "zero": false}, "axis": {"values": [500,1000,1500,2000,2500,3000], "format": "d", "labelFontSize": 19, "labelPadding": 6, "title": "Raman shift (1/cm)", "titleFontSize": 20.5, "titlePadding": 11}},
          "y": {"field": "val", "type": "quantitative", "scale": {"domain": [-30.7, 48.6], "nice": false, "zero": false}, "axis": {"values": [-20,0,20,40], "labelFontSize": 19, "labelPadding": 5, "title": "Raman intensity", "titleFontSize": 20.5, "titlePadding": 7}},
          "color": {"field": "group", "type": "nominal", "scale": {"domain": ["Normal","Tumor"], "range": ["#1f77b4","#ff7f0e"]},
            "legend": {"orient": "top-right", "offset": 9, "title": null, "symbolType": "M-1.7,0L1.7,0", "symbolSize": 480, "symbolStrokeWidth": 1.5, "symbolOpacity": 1, "symbolOffset": 9, "labelFontSize": 21, "labelOffset": 14, "padding": 7, "rowPadding": 6, "strokeColor": "#d9d9d9", "fillColor": "white", "cornerRadius": 4, "labelExpr": "datum.label + '\u2800'"}}
        },
        "layer": [
          {"mark": {"type": "line", "strokeWidth": 5, "opacity": 0.15}},
          {"mark": {"type": "line", "strokeWidth": 1.3}}
        ]
       }
      ]
     },
     {"hconcat": [
       {"width": 86, "height": 1, "data": {"values": []}, "mark": "point", "view": {"stroke": null}},
       {"title": {"text": "B", "anchor": "start", "frame": "bounds", "offset": -22, "fontSize": 25, "dx": -3},
        "resolve": {"scale": {"color": "independent"}, "legend": {"color": "independent"}},
        "vconcat": [
         {"width": 299, "height": 286,
          "title": {"text": "Tumor versus normal", "fontSize": 21, "offset": 11},
          "data": {"name": "pca"},
          "mark": {"type": "circle", "size": 95, "opacity": 0.5, "stroke": "white", "strokeWidth": 0.8},
          "encoding": {
            "x": {"field": "d1", "type": "quantitative", "scale": {"domain": [-4.2, 6.25], "nice": false, "zero": false}, "axis": {"values": [-2.5,0,2.5,5], "format": ".1f", "labelFontSize": 20.5, "title": "PCA Dimension 1", "titleFontSize": 21, "titlePadding": 8}},
            "y": {"field": "d2", "type": "quantitative", "scale": {"domain": [-5, 11], "nice": false, "zero": false}, "axis": {"values": [-5,-2.5,0,2.5,5,7.5,10], "format": ".1f", "labelFontSize": 20.5, "labelPadding": 6, "title": "PCA Dimension 2", "titleFontSize": 21, "titlePadding": 6}},
            "color": {"field": "g", "type": "nominal", "scale": {"domain": ["Normal","Tumor"], "range": ["#1f77b4","#ff7f0e"]},
              "legend": {"orient": "top-right", "offset": 10, "title": null, "symbolType": "circle", "symbolSize": 130, "symbolOpacity": 1, "symbolStrokeWidth": 0, "symbolOffset": 10, "labelFontSize": 21.5, "labelOffset": 5, "padding": 6, "rowPadding": 5, "strokeColor": "#d9d9d9", "fillColor": "white", "cornerRadius": 4, "labelExpr": "datum.label + '\u2800'"}}
          }
         }
        ]
       },
       {"title": {"text": "C", "anchor": "start", "frame": "bounds", "offset": -22, "fontSize": 25, "dx": -8},
        "vconcat": [
         {"width": 308, "height": 283,
          "title": {"text": "Tumor versus normal", "fontSize": 21, "offset": 1},
          "layer": [
            {"data": {"name": "diag"}, "mark": {"type": "line", "strokeDash": [8,4], "strokeWidth": 2.5, "color": "#1f77b4"},
             "encoding": {
               "x": {"field": "sp", "type": "quantitative", "scale": {"domain": [0, 1], "nice": false, "zero": false}, "axis": {"values": [0,0.25,0.5,0.75,1], "format": ".2f", "labelFontSize": 20.5, "title": "Specificity", "titleFontSize": 21, "titlePadding": 8}},
               "y": {"field": "se", "type": "quantitative", "scale": {"domain": [0, 1], "nice": false, "zero": false}, "axis": {"values": [0,0.2,0.4,0.6,0.8,1], "format": ".1f", "labelFontSize": 20.5, "labelPadding": 6, "title": "Sensitivity", "titleFontSize": 21, "titlePadding": 12}}
             }},
            {"data": {"name": "roc"}, "mark": {"type": "line", "strokeWidth": 2.7, "color": "#ff7f0e"},
             "encoding": {"x": {"field": "sp", "type": "quantitative"}, "y": {"field": "se", "type": "quantitative"}}},
            {"data": {"name": "stats"}, "mark": {"type": "text", "align": "left", "baseline": "middle", "fontSize": 21, "lineHeight": 27.6, "color": "#262626"},
             "encoding": {"x": {"datum": 0.046, "type": "quantitative"}, "y": {"datum": 0.472, "type": "quantitative"}, "text": {"field": "label", "type": "nominal"}}}
          ]
         }
        ]
       }
      ],
      "spacing": 27,
      "resolve": {"scale": {"color": "independent"}, "legend": {"color": "independent"}}
     }
    ],
    "spacing": 23,
    "resolve": {"scale": {"color": "independent"}, "legend": {"color": "independent"}}
   },
   {"width": 7, "height": 849, "data": {"values": []}, "mark": "point", "view": {"fill": "#fce0d2", "stroke": null}}
  ],
  "spacing": 30,
  "resolve": {"scale": {"color": "independent"}, "legend": {"color": "independent"}}
 }
]
}
